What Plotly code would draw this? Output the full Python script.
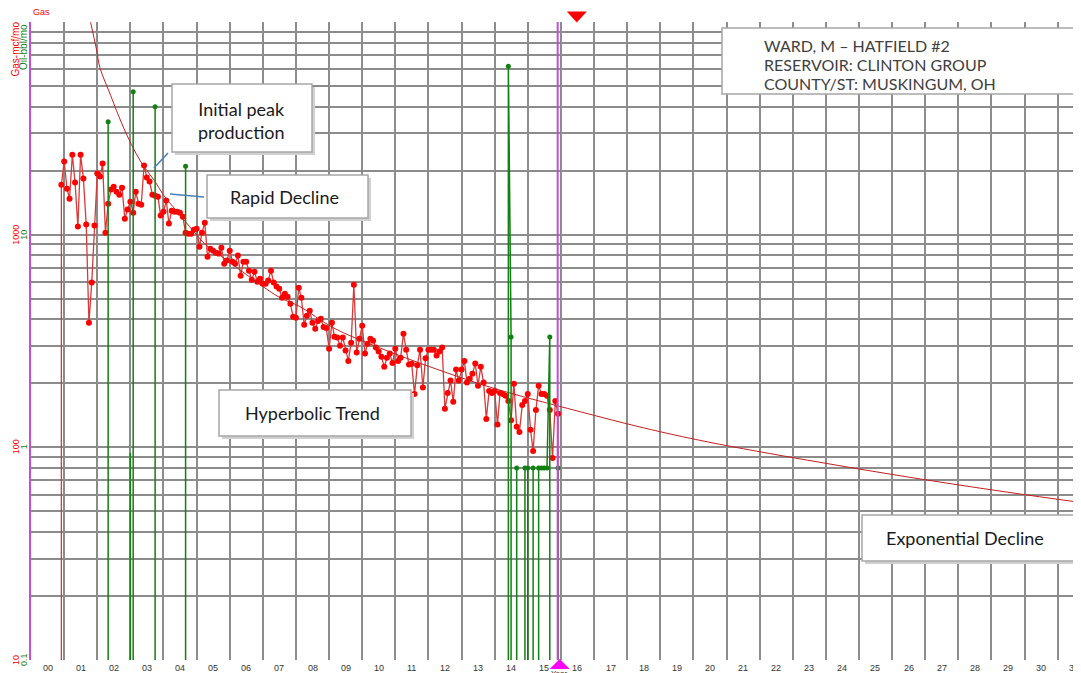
import math
import plotly.graph_objects as go

# ---------------- data ----------------
FIRST_GAS_MONTH = "2000-12"
gas_mcf = [
    1719, 2206, 1645, 1476, 2377, 1758, 1091, 2377, 1835, 1115, 385, 595, 1103,
    1940, 1875, 2160, 1022, 1399, 1629, 1680, 1592, 1542, 1663, 1189, 1312,
    1429, 1269, 1592, 1399, 1384, 2115, 1855, 1777, 1542, 1525, 1509, 1229,
    1283, 1446, 1127, 1297, 1283, 1283, 1269, 1215, 1022, 1011, 1011, 1056,
    1067, 878, 1022, 1138, 788, 859, 841, 823, 815, 869, 730, 755, 841, 746,
    730, 797, 641, 746, 746, 677, 614, 670, 601, 621, 588, 588, 608, 677, 595,
    570, 557, 505, 527, 511, 473, 411, 407, 563, 505, 377, 416, 439, 385, 361,
    393, 402, 368, 364, 291, 385, 331, 328, 300, 328, 285, 255, 310, 582, 279,
    324, 373, 276, 307, 324, 317, 295, 282, 267, 239, 264, 276, 249, 291, 255,
    264, 342, 288, 245, 247, 178, 243, 288, 191, 262, 288, 288, 288, 270, 282,
    295, 152, 180, 206, 164, 232, 206, 232, 255, 202, 210, 222, 248, 195, 239,
    202, 136, 184, 180, 184, 128, 180, 178, 175, 165, 134, 199, 125, 118, 158,
    165, 178, 121, 96, 150, 195, 178, 178, 175, 150, 89, 165, 144,
]

oil_months = ["2002-05", "2003-02", "2003-10", "2004-09", "2014-06", "2014-07",
              "2014-09", "2014-12", "2015-01", "2015-03", "2015-05", "2015-06",
              "2015-07", "2015-08", "2015-09", "2015-12"]
oil_bbl = [34, 47, 40, 21, 62, 3.3, 0.8, 0.8, 0.8, 0.8, 0.8, 0.8, 0.8, 0.8, 3.3, 0.8]

oil_low_months = ["2003-01"]
oil_low_bbl = [0.94]

decline_dates = ["2001-10-19", "2001-12-24", "2002-01-30", "2002-05-30", "2002-07-31",
                 "2002-11-18", "2003-03-07", "2003-06-06", "2003-09-24", "2003-12-28",
                 "2004-05-22", "2004-10-16", "2005-04-20", "2005-10-19", "2006-07-01",
                 "2007-07-01", "2008-02-10", "2009-02-15", "2010-07-01", "2012-04-15",
                 "2014-01-01", "2016-07-07", "2018-07-01", "2020-06-10", "2023-06-15",
                 "2026-06-25", "2029-07-01", "2031-09-20"]
decline_mcf = [9970, 7400, 6100, 4500, 3840, 2975, 2400, 2070, 1795, 1545, 1297, 1090,
               890, 782, 650, 508, 460, 365, 295, 232, 189, 148, 123.5, 106, 87, 72.5,
               61.5, 55]

years = list(range(2000, 2032))
year_labels = [f"{y % 100:02d}" for y in years]

gas_tick_vals = [10, 100, 1000]
oil_tick_vals = [0.1, 1, 10]

CURSOR_DATE = "2015-11-27"
FORECAST_MARK_DATE = "2016-06-25"
X_START, X_END = "2000-01-01", "2031-09-16"

well_info = ["WARD, M \u2013 HATFIELD #2", "RESERVOIR: CLINTON GROUP",
             "COUNTY/ST: MUSKINGUM, OH"]

# ---------------- layout geometry ----------------
# the page body adds an 8px offset; figure is sized so it ends at the window edge
OFF = 8
W, H = 1081 - OFF, 673 - OFF
ML, MR, MT, MB = 31 - OFF, 0, 22 - OFF, 13
PW, PH = W - ML - MR, H - MT - MB


def px(x):  # screen x -> paper
    return (x - OFF - ML) / PW


def py(y):  # screen y -> paper
    return (H - MB - (y - OFF)) / PH


def month_list(start, n):
    y, m = map(int, start.split("-"))
    out = []
    for i in range(n):
        k = m - 1 + i
        out.append(f"{y + k // 12:04d}-{k % 12 + 1:02d}-01")
    return out


def midx(s):
    y, m = map(int, s.split("-")[:2])
    return y * 12 + m


def spikes(dates, vals, floor):
    xs, ys = [], []
    for i, (d, v) in enumerate(zip(dates, vals)):
        if i == 0 or midx(d) - midx(dates[i - 1]) > 1:
            xs.append(d); ys.append(floor)
        xs.append(d); ys.append(v)
        if i == len(dates) - 1 or midx(dates[i + 1]) - midx(d) > 1:
            xs.extend([d, None]); ys.extend([floor, None])
    return xs, ys


gas_dates = month_list(FIRST_GAS_MONTH, len(gas_mcf))
oil_dates = [m + "-01" for m in oil_months]
oil_low_dates = [m + "-01" for m in oil_low_months]

GRID = "#8c8c8c"
MAGENTA = "#c44fd6"
RED = "#ff0000"
GREEN = "#128012"

fig = go.Figure()

# oil (green, secondary axis)
ox, oy = spikes(oil_low_dates, oil_low_bbl, 0.001)
fig.add_trace(go.Scatter(x=ox, y=oy, yaxis="y2", mode="lines",
                         line=dict(color=GREEN, width=1.5), hoverinfo="skip"))
ox, oy = spikes(oil_dates, oil_bbl, 0.001)
fig.add_trace(go.Scatter(x=ox, y=oy, yaxis="y2", mode="lines",
                         line=dict(color=GREEN, width=1.5), hoverinfo="skip"))
fig.add_trace(go.Scatter(x=oil_dates, y=oil_bbl, yaxis="y2", mode="markers",
                         marker=dict(color=GREEN, size=5)))

# gas (red)
gx, gy = spikes(gas_dates, gas_mcf, 1)
fig.add_trace(go.Scatter(x=gx, y=gy, mode="lines",
                         line=dict(color="#d83a3a", width=1.3), hoverinfo="skip"))
fig.add_trace(go.Scatter(x=gas_dates, y=gas_mcf, mode="markers",
                         marker=dict(color=RED, size=6)))

# decline curve
fig.add_trace(go.Scatter(x=decline_dates, y=decline_mcf, mode="lines",
                         line=dict(color="#c42020", width=1, shape="spline")))

grid_vals = [d * 10 ** e for e in range(1, 4) for d in range(1, 10)] + [10000]

fig.update_layout(
    width=W, height=H, template="none", showlegend=False,
    paper_bgcolor="white", plot_bgcolor="white",
    margin=dict(l=ML, r=MR, t=MT, b=MB, pad=0),
    xaxis=dict(type="date", range=[X_START, X_END], dtick="M12", tick0="2000-01-01",
               showticklabels=False, showgrid=True, gridcolor=GRID, gridwidth=2,
               ticks="", showline=False, zeroline=False, automargin=False),
    yaxis=dict(type="log", range=[1, 4], tickmode="array", tickvals=grid_vals,
               showticklabels=False, showgrid=True, gridcolor=GRID, gridwidth=2,
               showline=True, linecolor=MAGENTA, linewidth=2, ticks="",
               zeroline=False, automargin=False),
    yaxis2=dict(type="log", range=[-1, 2], overlaying="y", side="left", anchor="x",
                showticklabels=False, showgrid=False, showline=False, ticks="",
                zeroline=False, automargin=False),
)

shapes = []
annotations = []

# x (year) labels, centred in each year
for y, lab in zip(years, year_labels):
    annotations.append(dict(xref="x", yref="paper", x=f"{y}-07-02", y=0, yshift=-1,
                            xanchor="center", yanchor="top", showarrow=False, text=lab,
                            font=dict(family="Liberation Sans", size=9, color="#333333")))

# y tick labels (rotated, left of the axis)
for v in gas_tick_vals:
    annotations.append(dict(xref="paper", yref="y", x=0, y=math.log10(v), xshift=-15,
                            xanchor="center", yanchor="middle", showarrow=False,
                            textangle=-90, text=f"{v:g}",
                            font=dict(family="Liberation Sans", size=9, color=RED)))
for v in oil_tick_vals:
    annotations.append(dict(xref="paper", yref="y2", x=0, y=math.log10(v), xshift=-7,
                            xanchor="center", yanchor="middle", showarrow=False,
                            textangle=-90, text=f"{v:g}",
                            font=dict(family="Liberation Sans", size=9, color=GREEN)))

# cursor line
shapes.append(dict(type="line", xref="x", yref="paper", x0=CURSOR_DATE, x1=CURSOR_DATE,
                   y0=0, y1=1, line=dict(color=MAGENTA, width=2), layer="above"))
# triangles
shapes.append(dict(type="path", xref="x", yref="paper", xsizemode="pixel",
                   ysizemode="pixel", xanchor=FORECAST_MARK_DATE, yanchor=1,
                   path="M-10,10.5 L10,10.5 L0,-0.5 Z", fillcolor=RED,
                   line=dict(width=0), layer="above"))
shapes.append(dict(type="path", xref="x", yref="paper", xsizemode="pixel",
                   ysizemode="pixel", xanchor=CURSOR_DATE, yanchor=0,
                   path="M-8,-9 L12,-9 L2,1 Z", fillcolor="#ff00ff",
                   line=dict(width=0), layer="above"))


def box(x0, y0, x1, y1, shadow=True):
    if shadow:
        shapes.append(dict(type="rect", xref="paper", yref="paper",
                           x0=px(x0 + 3), x1=px(x1 + 3), y0=py(y1 + 3), y1=py(y0 + 3),
                           fillcolor="#d0d0d0", line=dict(width=0), layer="above"))
    shapes.append(dict(type="rect", xref="paper", yref="paper",
                       x0=px(x0), x1=px(x1), y0=py(y1), y1=py(y0),
                       fillcolor="white", line=dict(color="#a6a6a6", width=1.5),
                       layer="above"))


BOXFONT = dict(family="Lato", size=18, color="#1a1a1a")

box(722, 28, 1077, 94, shadow=False)
for i, line in enumerate(well_info):
    annotations.append(dict(xref="paper", yref="paper", x=px(762), y=py(46 + 19 * i),
                            xanchor="left", yanchor="middle", showarrow=False,
                            text=line, font=dict(family="Lato", size=16, color="#404040")))

box(172, 84, 312, 152)
annotations.append(dict(xref="paper", yref="paper", x=px(241), y=py(120),
                        xanchor="center", yanchor="middle", showarrow=False,
                        text="Initial peak<br>production", font=BOXFONT))
box(207, 175, 368, 218)
annotations.append(dict(xref="paper", yref="paper", x=px(284), y=py(197),
                        xanchor="center", yanchor="middle", showarrow=False,
                        text="Rapid Decline", font=BOXFONT))
box(219, 390, 411, 436)
annotations.append(dict(xref="paper", yref="paper", x=px(312), y=py(413),
                        xanchor="center", yanchor="middle", showarrow=False,
                        text="Hyperbolic Trend", font=BOXFONT))
box(862, 515, 1076, 561)
annotations.append(dict(xref="paper", yref="paper", x=px(965), y=py(538),
                        xanchor="center", yanchor="middle", showarrow=False,
                        text="Exponential Decline", font=BOXFONT))

# callout lines
for (x0, y0, x1, y1) in [(168, 153, 154, 168), (170, 194, 204, 197)]:
    shapes.append(dict(type="line", xref="paper", yref="paper", x0=px(x0), y0=py(y0),
                       x1=px(x1), y1=py(y1), line=dict(color="#4a7ebb", width=1.5),
                       layer="above"))

# axis titles
annotations.append(dict(xref="paper", yref="paper", x=0, y=1, xshift=-16, yshift=2,
                        xanchor="center", yanchor="top", showarrow=False,
                        textangle=-90, text="Gas-mcf/mo",
                        font=dict(family="Liberation Sans", size=10, color=RED)))
annotations.append(dict(xref="paper", yref="paper", x=0, y=1, xshift=-8,
                        xanchor="center", yanchor="top", showarrow=False,
                        textangle=-90, text="Oil-bbl/mo",
                        font=dict(family="Liberation Sans", size=10, color=GREEN)))
annotations.append(dict(xref="paper", yref="paper", x=0, y=1, yshift=3,
                        xanchor="left", yanchor="bottom", showarrow=False,
                        text="Gas", font=dict(family="Liberation Sans", size=9, color=RED)))
annotations.append(dict(xref="x", yref="paper", x=CURSOR_DATE, y=0, xshift=2, yshift=-7,
                        xanchor="center", yanchor="top", showarrow=False,
                        text="Year", font=dict(family="Liberation Sans", size=8, color="#222")))

fig.update_layout(shapes=shapes, annotations=annotations)
fig.write_html("out.html",
               post_script="document.documentElement.style.overflow='hidden';"
                           "document.body.style.overflow='hidden';")
